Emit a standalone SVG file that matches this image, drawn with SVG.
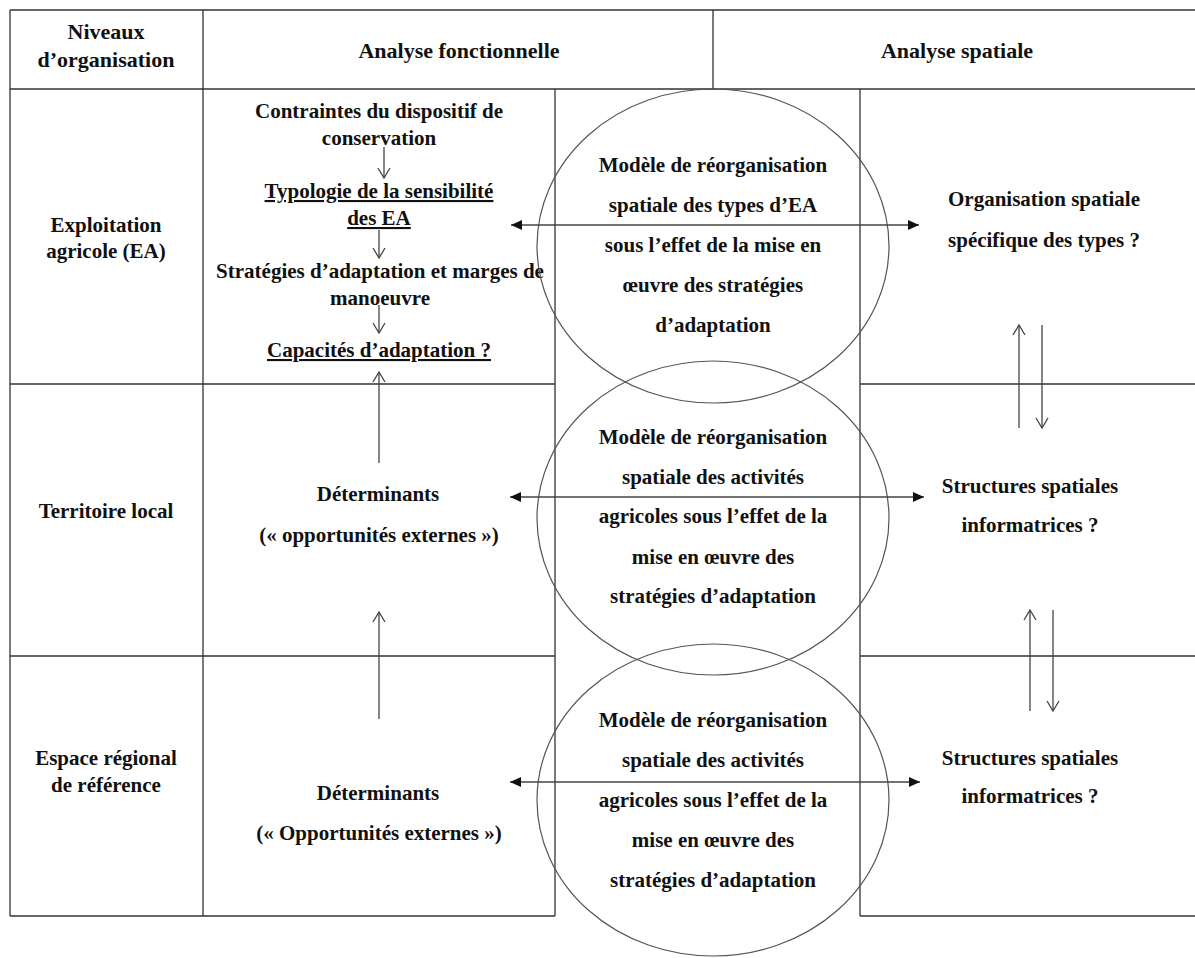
<svg xmlns="http://www.w3.org/2000/svg" width="1195" height="958" viewBox="0 0 1195 958">
<style>
text{font-family:"Liberation Serif","Times New Roman",serif;font-weight:bold;font-size:21px;fill:#111;text-anchor:middle}
.hd{font-size:22px}
.ul{text-decoration:underline}
.grid line{stroke:#333;stroke-width:1.3}
.circ{fill:none;stroke:#555;stroke-width:1.2}
.conn line{stroke:#444;stroke-width:1.3;fill:none}
</style>
<defs>
<marker id="open" markerUnits="userSpaceOnUse" markerWidth="14" markerHeight="16" viewBox="-12 -8 14 16" refX="0" refY="0" orient="auto">
<path d="M-10,-6 L0,0 L-10,6" fill="none" stroke="#444" stroke-width="1.3"/>
</marker>
<marker id="fill" markerUnits="userSpaceOnUse" markerWidth="14" markerHeight="12" viewBox="-12 -6 14 12" refX="0" refY="0" orient="auto-start-reverse">
<path d="M-11,-5 L0,0 L-11,5 Z" fill="#111"/>
</marker>
</defs>
<rect width="1195" height="958" fill="#fff"/>
<g class="grid" id="table">
<line x1="10" y1="10" x2="1195" y2="10"/>
<line x1="10" y1="89" x2="1195" y2="89"/>
<line x1="10" y1="10" x2="10" y2="916"/>
<line x1="203" y1="10" x2="203" y2="916"/>
<line x1="713" y1="10" x2="713" y2="89"/>
<line x1="555" y1="89" x2="555" y2="916"/>
<line x1="860" y1="89" x2="860" y2="916"/>
<line x1="10" y1="384" x2="555" y2="384"/>
<line x1="10" y1="656" x2="555" y2="656"/>
<line x1="10" y1="916" x2="555" y2="916"/>
<line x1="860" y1="384" x2="1195" y2="384"/>
<line x1="860" y1="656" x2="1195" y2="656"/>
<line x1="860" y1="916" x2="1195" y2="916"/>
</g>
<g id="headers">
<text class="hd" x="106" y="39">Niveaux</text>
<text class="hd" x="106" y="67">d’organisation</text>
<text class="hd" x="459" y="58">Analyse fonctionnelle</text>
<text class="hd" x="957" y="58">Analyse spatiale</text>
</g>
<g id="level-ea">
<text x="106" y="232">Exploitation</text>
<text x="106" y="258">agricole (EA)</text>
</g>
<g id="level-local">
<text x="106" y="518">Territoire local</text>
</g>
<g id="level-regional">
<text x="106" y="765">Espace régional</text>
<text x="106" y="792">de référence</text>
</g>
<g id="contraintes">
<text x="379" y="118">Contraintes du dispositif de</text>
<text x="379" y="145">conservation</text>
</g>
<g id="typologie">
<text class="ul" x="379" y="198">Typologie de la sensibilité</text>
<text class="ul" x="379" y="225">des EA</text>
</g>
<g id="strategies">
<text x="380" y="278">Stratégies d’adaptation et marges de</text>
<text x="380" y="305">manoeuvre</text>
</g>
<g id="capacites">
<text class="ul" x="379" y="357">Capacités d’adaptation ?</text>
</g>
<g id="determinants-local">
<text x="378" y="501">Déterminants</text>
<text x="379" y="542">(« opportunités externes »)</text>
</g>
<g id="determinants-regional">
<text x="378" y="800">Déterminants</text>
<text x="379" y="840">(« Opportunités externes »)</text>
</g>
<g id="modele-ea">
<ellipse class="circ" cx="713" cy="246" rx="176" ry="157"/>
<text x="713" y="172">Modèle de réorganisation</text>
<text x="713" y="212">spatiale des types d’EA</text>
<text x="713" y="252">sous l’effet de la mise en</text>
<text x="713" y="292">œuvre des stratégies</text>
<text x="713" y="332">d’adaptation</text>
</g>
<g id="modele-local">
<ellipse class="circ" cx="713" cy="518" rx="176" ry="157"/>
<text x="713" y="444">Modèle de réorganisation</text>
<text x="713" y="484">spatiale des activités</text>
<text x="713" y="523">agricoles sous l’effet de la</text>
<text x="713" y="564">mise en œuvre des</text>
<text x="713" y="603">stratégies d’adaptation</text>
</g>
<g id="modele-regional">
<ellipse class="circ" cx="713" cy="800" rx="176" ry="156"/>
<text x="713" y="727">Modèle de réorganisation</text>
<text x="713" y="767">spatiale des activités</text>
<text x="713" y="807">agricoles sous l’effet de la</text>
<text x="713" y="847">mise en œuvre des</text>
<text x="713" y="887">stratégies d’adaptation</text>
</g>
<g id="organisation-spatiale">
<text x="1044" y="206">Organisation spatiale</text>
<text x="1044" y="247">spécifique des types ?</text>
</g>
<g id="structures-local">
<text x="1030" y="493">Structures spatiales</text>
<text x="1030" y="532">informatrices ?</text>
</g>
<g id="structures-regional">
<text x="1030" y="765">Structures spatiales</text>
<text x="1030" y="803">informatrices ?</text>
</g>
<g class="conn" id="connectors">
<line x1="384" y1="147" x2="384" y2="178" marker-end="url(#open)"/>
<line x1="379" y1="230" x2="379" y2="258" marker-end="url(#open)"/>
<line x1="379" y1="305" x2="379" y2="333" marker-end="url(#open)"/>
<line x1="379" y1="463" x2="379" y2="372" marker-end="url(#open)"/>
<line x1="379" y1="719" x2="379" y2="612" marker-end="url(#open)"/>
<line x1="511" y1="225" x2="919" y2="225" marker-start="url(#fill)" marker-end="url(#fill)"/>
<line x1="510" y1="497" x2="924" y2="497" marker-start="url(#fill)" marker-end="url(#fill)"/>
<line x1="510" y1="782" x2="920" y2="782" marker-start="url(#fill)" marker-end="url(#fill)"/>
<line x1="1019" y1="428" x2="1019" y2="325" marker-end="url(#open)"/>
<line x1="1042" y1="325" x2="1042" y2="428" marker-end="url(#open)"/>
<line x1="1030" y1="711" x2="1030" y2="610" marker-end="url(#open)"/>
<line x1="1053" y1="610" x2="1053" y2="711" marker-end="url(#open)"/>
</g>
</svg>
